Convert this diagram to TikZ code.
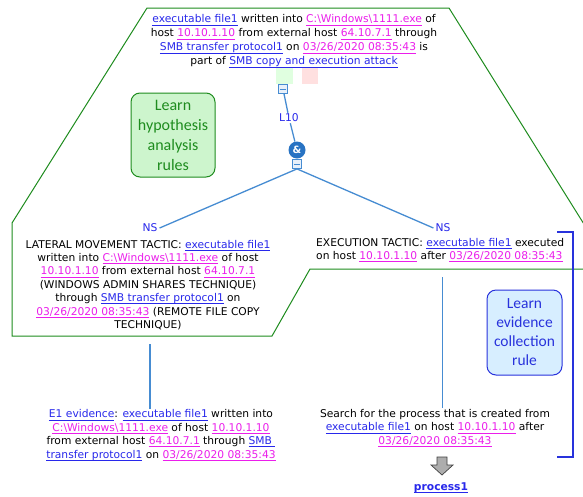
\documentclass[tikz,border=0pt]{standalone}
\usepackage{fontspec}
\setmainfont{DejaVu Sans}
\newfontfamily\calloutfont{Carlito}
\usetikzlibrary{calc}

\definecolor{lnkblue}{RGB}{40,40,235}
\definecolor{lnkmag}{RGB}{235,30,235}
\definecolor{connclr}{RGB}{70,140,210}
\definecolor{hypgreen}{RGB}{30,140,30}
\definecolor{hypfill}{RGB}{205,245,205}
\definecolor{evblue}{RGB}{40,50,220}
\definecolor{evfill}{RGB}{215,238,255}
\definecolor{andfill}{RGB}{40,115,195}
\definecolor{minusfill}{RGB}{232,240,250}

% underlined link text
\newsavebox\lnkbox
\newcommand\lnkul[1]{\sbox\lnkbox{#1}\rlap{\rule[-2.2pt]{\wd\lnkbox}{0.55pt}}\usebox\lnkbox}
\newcommand\bl[1]{\textcolor{lnkblue}{\lnkul{#1}}}
\newcommand\mg[1]{\textcolor{lnkmag}{\lnkul{#1}}}
\newcommand\bs{\textbackslash}

\tikzset{
  txt/.style={inner sep=0pt, align=center, font=\fontsize{10.7}{13.4}\selectfont},
  lbl/.style={inner sep=2pt, text=lnkblue, font=\fontsize{10.7}{13}\selectfont},
  cn/.style={draw=connclr, line width=1.3pt},
  minusbox/.style={draw=connclr, fill=minusfill, line width=0.8pt, minimum size=9pt, inner sep=0pt},
  hypline/.style={draw=hypgreen, line width=1pt},
  hypbox/.style={draw=hypgreen, fill=hypfill, rounded corners=9pt, line width=1pt,
    minimum width=84pt, minimum height=84pt, text=hypgreen, align=center,
    font=\calloutfont\fontsize{16}{20}\selectfont},
  evbox/.style={draw=evblue, fill=evfill, rounded corners=9pt, line width=1pt,
    minimum width=75pt, minimum height=85pt, text=evblue, align=center,
    font=\calloutfont\fontsize{15.5}{19}\selectfont}
}

\begin{document}
\begin{tikzpicture}[x=1pt, y=-1pt]
\useasboundingbox (0,0) rectangle (583,496);
\fill[white] (0,0) rectangle (583,496);

% green hypothesis region outline
\begin{scope}
  \clip (0,0) rectangle (583,496);
  \draw[hypline] (147,8) -- (449,8) -- (612,269) -- (310,269) -- (272,336)
    -- (12,336) -- (12,223) -- cycle;
\end{scope}

% small status squares
\fill[green!12] (276,68) rectangle (293,84);
\fill[red!12] (302,68) rectangle (318,84);

% hypothesis statement
\node[txt, font=\fontsize{10.7}{14}\selectfont] (top) at (294,41) {%
\bl{executable file1} written into \mg{C:\bs Windows\bs 1111.exe} of\\
host \mg{10.10.1.10} from external host \mg{64.10.7.1} through\\
\bl{SMB transfer protocol1} on \mg{03/26/2020 08:35:43} is\\
part of \bl{SMB copy and execution attack}};

% AND connector
\node[minusbox] (m1) at (283,89) {};
\draw[connclr, line width=0.9pt] ($(m1.center)+(-3,0)$) -- ($(m1.center)+(3,0)$);
\node[lbl, inner sep=1pt] (l10) at (289,118) {L10};
\node[circle, fill=andfill, minimum size=17pt, inner sep=0pt, text=white,
      font=\bfseries\fontsize{10}{10}\selectfont] (and) at (297,150) {\&};
\node[minusbox] (m2) at (297,164) {};
\draw[connclr, line width=0.9pt] ($(m2.center)+(-3,0)$) -- ($(m2.center)+(3,0)$);
\draw[cn] (m1) -- (l10) -- (and);

\node[lbl] (nsl) at (150,228) {NS};
\node[lbl] (nsr) at (443,228) {NS};
\draw[cn] (m2.south) -- (nsl.east);
\draw[cn] (m2.south) -- (nsr.west);

% sub-hypotheses
\node[txt] (lat) at (148,285) {%
LATERAL MOVEMENT TACTIC: \bl{executable file1}\\
written into \mg{C:\bs Windows\bs 1111.exe} of host\\
\mg{10.10.1.10} from external host \mg{64.10.7.1}\\
(WINDOWS ADMIN SHARES TECHNIQUE)\\
through \bl{SMB transfer protocol1} on\\
\mg{03/26/2020 08:35:43} (REMOTE FILE COPY\\
TECHNIQUE)};

\node[txt, align=left, anchor=west] (exe) at (316,250) {%
EXECUTION TACTIC: \bl{executable file1} executed\\
on host \mg{10.10.1.10} after \mg{03/26/2020 08:35:43}};

% evidence
\node[txt] (ev) at (161,435) {%
\bl{E1 evidence}: \bl{executable file1} written into\\
\mg{C:\bs Windows\bs 1111.exe} of host \mg{10.10.1.10}\\
from external host \mg{64.10.7.1} through \bl{SMB\ }\\
\bl{transfer protocol1} on \mg{03/26/2020 08:35:43}};

\node[txt] (srch) at (435,428) {%
Search for the process that is created from\\
\bl{executable file1} on host \mg{10.10.1.10} after\\
\mg{03/26/2020 08:35:43}};

\draw[cn] ($(lat.south)+(2,14)$) -- ($(lat.south |- ev.north)+(2,-1)$);
\draw[cn] ($(exe.south)+(2,15)$) -- ($(exe.south |- srch.north)+(2,-1)$);

% result arrow
\filldraw[fill=black!32, draw=black!75, line width=0.7pt]
  (437,457) -- (447,457) -- (447,465) -- (453,465) -- (442,475)
  -- (431,465) -- (437,465) -- cycle;
\node[txt] (proc) at (441,488) {\textbf{\bl{process1}}};

% evidence bracket
\draw[evblue, line width=1.2pt] (557,232) -- (573,232) -- (573,457) -- (557,457);

% callouts
\node[hypbox] (hyp) at (173,135) {Learn\\hypothesis\\analysis\\rules};
\node[evbox] (evc) at (524.5,332.5) {Learn\\evidence\\collection\\rule};
\end{tikzpicture}
\end{document}
